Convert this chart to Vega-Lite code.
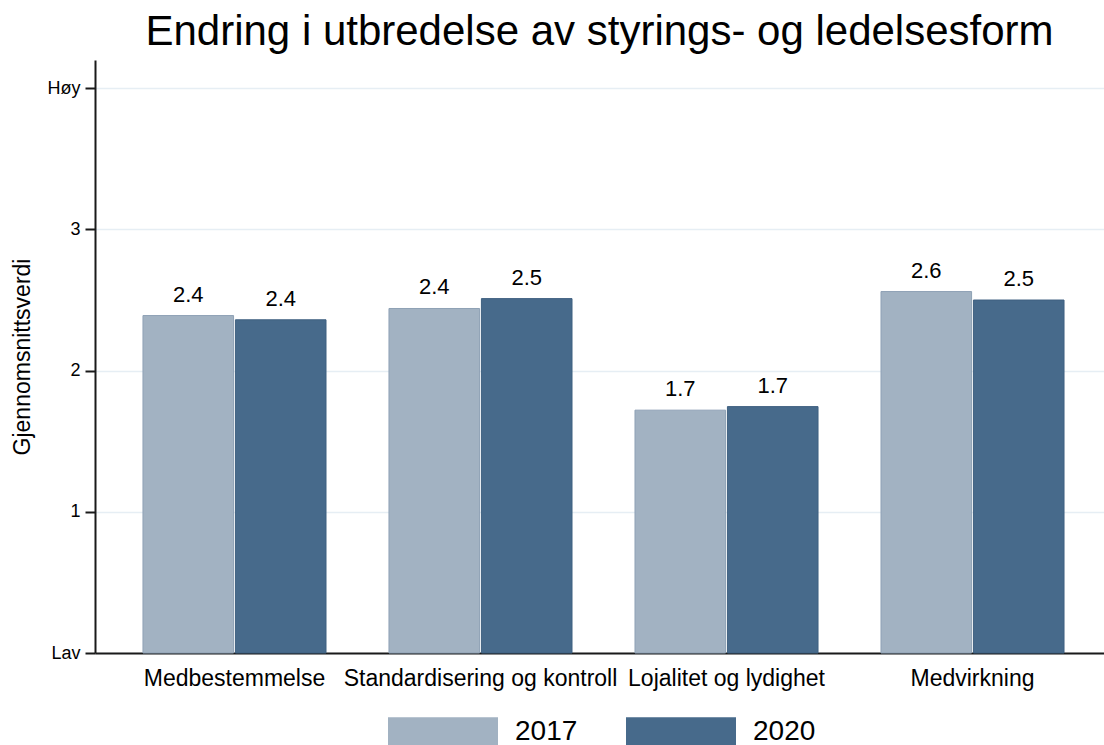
{
  "$schema": "https://vega.github.io/schema/vega-lite/v6.json",
  "width": 1009,
  "height": 593,
  "autosize": {"type": "none"},
  "padding": {"left": 95, "top": 60, "right": 0, "bottom": 92},
  "background": "white",
  "title": {
    "text": "Endring i utbredelse av styrings- og ledelsesform",
    "font": "Liberation Sans",
    "fontSize": 42,
    "fontWeight": "normal",
    "color": "#000000",
    "anchor": "middle",
    "offset": 6
  },
  "config": {
    "view": {"stroke": null},
    "font": "Liberation Sans"
  },
  "data": {
    "values": [
      {"kategori": "Medbestemmelse", "år": "2017", "verdi": 2.39},
      {"kategori": "Medbestemmelse", "år": "2020", "verdi": 2.36},
      {"kategori": "Standardisering og kontroll", "år": "2017", "verdi": 2.44},
      {"kategori": "Standardisering og kontroll", "år": "2020", "verdi": 2.51},
      {"kategori": "Lojalitet og lydighet", "år": "2017", "verdi": 1.72},
      {"kategori": "Lojalitet og lydighet", "år": "2020", "verdi": 1.745},
      {"kategori": "Medvirkning", "år": "2017", "verdi": 2.56},
      {"kategori": "Medvirkning", "år": "2020", "verdi": 2.50}
    ]
  },
  "encoding": {
    "x": {
      "field": "kategori",
      "type": "nominal",
      "sort": null,
      "scale": {"paddingInner": 0.256, "paddingOuter": 0.195, "range": [0, 1017]},
      "axis": {
        "title": null,
        "labelAngle": 0,
        "labelFontSize": 23,
        "labelLimit": 0,
        "labelColor": "#000000",
        "labelPadding": 14,
        "ticks": false,
        "domain": true,
        "domainColor": "#1a1a1a",
        "domainWidth": 2,
        "grid": false
      }
    },
    "xOffset": {
      "field": "år",
      "type": "nominal",
      "scale": {"paddingInner": 0.02}
    },
    "y": {
      "field": "verdi",
      "type": "quantitative",
      "scale": {"domain": [0, 4.2], "nice": false, "zero": true},
      "axis": {
        "title": "Gjennomsnittsverdi",
        "titleFontSize": 23,
        "titleFontWeight": "normal",
        "titleColor": "#000000",
        "titlePadding": 13,
        "values": [0, 1, 2, 3, 4],
        "labelExpr": "datum.value == 0 ? 'Lav' : datum.value == 4 ? 'Høy' : datum.label",
        "labelFontSize": 18,
        "labelColor": "#000000",
        "labelPadding": 5,
        "tickSize": 10,
        "tickWidth": 2,
        "tickColor": "#1a1a1a",
        "domainColor": "#1a1a1a",
        "domainWidth": 2,
        "grid": true,
        "gridColor": "#e6eef4",
        "gridWidth": 1.5
      }
    }
  },
  "layer": [
    {
      "mark": {"type": "bar", "strokeWidth": 1},
      "encoding": {
        "color": {
          "field": "år",
          "type": "nominal",
          "scale": {"domain": ["2017", "2020"], "range": ["#a2b2c2", "#476a8b"]},
          "legend": {
            "title": null,
            "orient": "none",
            "legendX": 293,
            "legendY": 617,
            "direction": "horizontal",
            "symbolType": "M-1,-0.27H1V0.27H-1Z",
            "symbolSize": 12100,
            "symbolStrokeWidth": 0,
            "labelFontSize": 28,
            "labelColor": "#000000",
            "labelOffset": 17,
            "columnPadding": 48
          }
        },
        "stroke": {
          "field": "år",
          "type": "nominal",
          "scale": {"domain": ["2017", "2020"], "range": ["#8ea1b5", "#3f6080"]},
          "legend": null
        }
      }
    },
    {
      "mark": {"type": "text", "baseline": "bottom", "dy": -9, "fontSize": 22, "color": "#000000"},
      "encoding": {
        "text": {"field": "verdi", "type": "quantitative", "format": ".1f"}
      }
    }
  ]
}
